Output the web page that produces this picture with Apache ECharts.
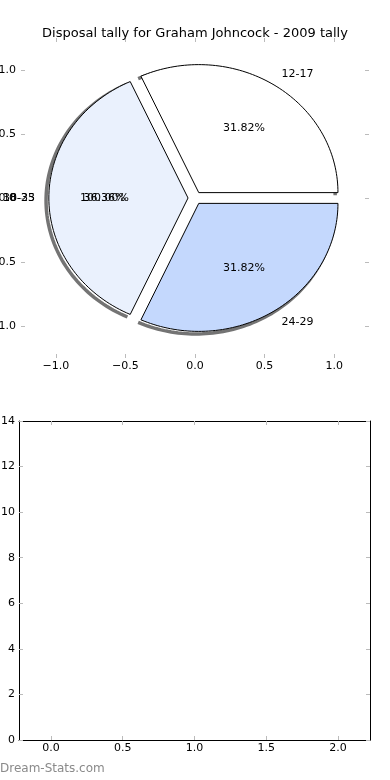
<!DOCTYPE html>
<html><head><meta charset="utf-8">
<script src="https://cdn.jsdelivr.net/npm/echarts@6/dist/echarts.min.js"></script>
<style>html,body{margin:0;padding:0;background:#fff}#c{width:390px;height:780px}</style>
</head><body><div id="c"></div>
<script>
const titleText = 'Disposal tally for Graham Johncock - 2009 tally';
const categories = ['12-17', '18-23', '24-29'];
const tallies = [7, 8, 7];
const sliceColors = ['#ffffff', '#eaf1fd', '#c4d8fd'];
const overlapLabels = ['30-35'];
const overlapPcts = [100];
const pieTicks = [-1, -0.5, 0, 0.5, 1];
const barXTicks = [0, 0.5, 1, 1.5, 2];
const barYMax = 14;
const watermark = 'Dream-Stats.com';

const FONT = 'DejaVu Sans';
const total = tallies.reduce((a, b) => a + b, 0);
const EXPLODE = 0.05;
function angles(i) {
  let s = 0;
  for (let k = 0; k < i; k++) s += tallies[k];
  const a0 = s / total * 2 * Math.PI;
  const a1 = (s + tallies[i]) / total * 2 * Math.PI;
  return [a0, a1];
}
function arcPoints(api, i, dx, dy, withCenter) {
  const [a0, a1] = angles(i);
  const m = (a0 + a1) / 2;
  const cx = EXPLODE * Math.cos(m) + dx, cy = EXPLODE * Math.sin(m) + dy;
  const pts = withCenter ? [api.coord([cx, cy])] : [];
  const N = 80;
  for (let k = 0; k <= N; k++) {
    const a = a0 + (a1 - a0) * k / N;
    pts.push(api.coord([cx + Math.cos(a), cy + Math.sin(a)]));
  }
  return pts;
}
const fmt = v => (v < 0 ? '\u2212' : '') + Math.abs(v).toFixed(1);
const tickStyle = {show: true, inside: true, length: 4, lineStyle: {color: '#bbbbbb', width: 1}};
const lbl = {fontFamily: FONT, fontSize: 11, color: '#000'};
const noLine = {show: false, onZero: false};
const frameLine = {show: true, onZero: false, lineStyle: {color: '#000', width: 1}};

const chart = echarts.init(document.getElementById('c'), null, {renderer: 'canvas'});
chart.setOption({
  animation: false,
  backgroundColor: '#fff',
  title: {text: titleText, left: 'center', top: 22, textStyle: {fontFamily: FONT, fontSize: 13, fontWeight: 'normal', color: '#000'}},
  graphic: [{type: 'text', left: 0, top: 763, style: {text: watermark, fontFamily: FONT, fontSize: 12, fill: '#8a8a8a'}}],
  grid: [
    {left: 21, width: 348, top: 38, height: 320, outerBoundsMode: 'none', containLabel: false},
    {left: 19, width: 351, top: 421, height: 319, outerBoundsMode: 'none', containLabel: false}
  ],
  xAxis: [
    {type: 'value', gridIndex: 0, min: -1.25, max: 1.25, position: 'bottom',
      axisLine: noLine, splitLine: {show: false},
      axisTick: Object.assign({customValues: pieTicks}, tickStyle),
      axisLabel: Object.assign({customValues: pieTicks, formatter: fmt, margin: 3}, lbl)},
    {type: 'value', gridIndex: 0, min: -1.25, max: 1.25, position: 'top',
      axisLine: noLine, splitLine: {show: false},
      axisTick: Object.assign({customValues: pieTicks}, tickStyle), axisLabel: {show: false}},
    {type: 'value', gridIndex: 1, min: -0.2225, max: 2.2225, position: 'bottom',
      axisLine: frameLine, splitLine: {show: false},
      axisTick: Object.assign({customValues: barXTicks}, tickStyle),
      axisLabel: Object.assign({customValues: barXTicks, formatter: fmt, margin: 3}, lbl)},
    {type: 'value', gridIndex: 1, min: -0.2225, max: 2.2225, position: 'top',
      axisLine: frameLine, splitLine: {show: false},
      axisTick: Object.assign({customValues: barXTicks}, tickStyle), axisLabel: {show: false}}
  ],
  yAxis: [
    {type: 'value', gridIndex: 0, min: -1.25, max: 1.25, position: 'left',
      axisLine: noLine, splitLine: {show: false},
      axisTick: Object.assign({customValues: pieTicks}, tickStyle),
      axisLabel: Object.assign({customValues: pieTicks, formatter: fmt, margin: 5}, lbl)},
    {type: 'value', gridIndex: 0, min: -1.25, max: 1.25, position: 'right',
      axisLine: noLine, splitLine: {show: false},
      axisTick: Object.assign({customValues: pieTicks}, tickStyle), axisLabel: {show: false}},
    {type: 'value', gridIndex: 1, min: 0, max: barYMax, interval: 2, position: 'left',
      axisLine: frameLine, splitLine: {show: false},
      axisTick: tickStyle, axisLabel: Object.assign({margin: 4}, lbl)},
    {type: 'value', gridIndex: 1, min: 0, max: barYMax, interval: 2, position: 'right',
      axisLine: frameLine, splitLine: {show: false},
      axisTick: tickStyle, axisLabel: {show: false}}
  ],
  series: [
    {type: 'custom', name: 'shadow', xAxisIndex: 0, yAxisIndex: 0, clip: false, z: 1,
      data: tallies.map((v, i) => [i, v]),
      renderItem: (params, api) => ({
        type: 'polyline', shape: {points: arcPoints(api, params.dataIndex, -0.02, -0.02, false)},
        style: {fill: null, stroke: 'rgba(70,70,70,0.75)', lineWidth: 3.5}
      })},
    {type: 'custom', name: 'pie', xAxisIndex: 0, yAxisIndex: 0, clip: false, z: 2,
      data: tallies.map((v, i) => [i, v]),
      renderItem: (params, api) => {
        const i = params.dataIndex;
        const [a0, a1] = angles(i);
        const m = (a0 + a1) / 2;
        const cx = EXPLODE * Math.cos(m), cy = EXPLODE * Math.sin(m);
        const lp = api.coord([cx + 1.1 * Math.cos(m), cy + 1.1 * Math.sin(m)]);
        const pp = api.coord([cx + 0.6 * Math.cos(m), cy + 0.6 * Math.sin(m)]);
        const children = [
          {type: 'polygon', shape: {points: arcPoints(api, i, 0, 0, true)},
            style: {fill: sliceColors[i], stroke: '#000', lineWidth: 1}},
          {type: 'text', x: lp[0], y: lp[1], style: {text: categories[i], font: '11px "DejaVu Sans"', fill: '#000',
            align: Math.cos(m) > 0 ? 'left' : 'right', verticalAlign: 'middle'}},
          {type: 'text', x: pp[0], y: pp[1], style: {text: (tallies[i] / total * 100).toFixed(2) + '%', font: '11px "DejaVu Sans"', fill: '#000',
            align: 'center', verticalAlign: 'middle'}}
        ];
        if (i === 1) {
          overlapLabels.forEach((t, k) => {
            children.push({type: 'text', x: lp[0], y: lp[1], style: {text: t, font: '11px "DejaVu Sans"', fill: '#000', align: 'right', verticalAlign: 'middle'}});
            children.push({type: 'text', x: pp[0], y: pp[1], style: {text: overlapPcts[k].toFixed(2) + '%', font: '11px "DejaVu Sans"', fill: '#000', align: 'center', verticalAlign: 'middle'}});
          });
        }
        return {type: 'group', children};
      }},
    {type: 'line', xAxisIndex: 2, yAxisIndex: 2, data: []}
  ]
});
</script></body></html>
